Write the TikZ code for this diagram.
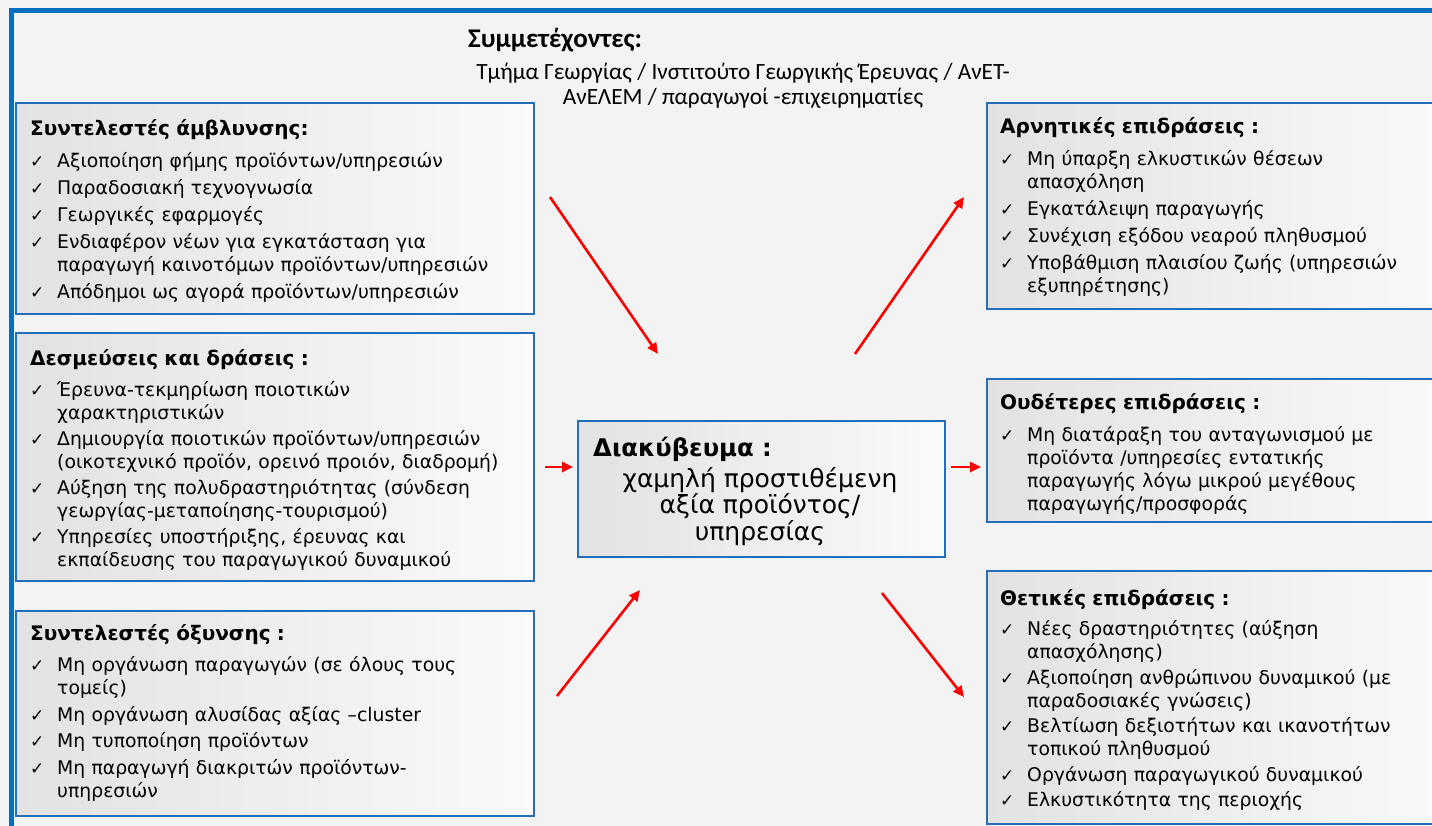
\documentclass[tikz,border=0pt]{standalone}
\usepackage{fontspec}
\setmainfont{DejaVu Sans}
\newfontfamily\calfont{Carlito}
\usetikzlibrary{arrows.meta}
\definecolor{frameblue}{RGB}{0,112,192}
\definecolor{boxblue}{RGB}{36,110,185}
\definecolor{boxL}{RGB}{226,226,226}
\definecolor{boxR}{RGB}{250,250,250}
\definecolor{bgcol}{RGB}{243,243,243}
\newcommand{\itm}[1]{\noindent\hangindent=27pt\hangafter=1\makebox[27pt][l]{\fontsize{17}{17}\selectfont ✓}#1\par}
\tikzset{
  boxstyle/.style={draw=boxblue, line width=1.8pt, left color=boxL, right color=boxR, anchor=north west, inner sep=0pt},
  txt/.style={anchor=north west, inner sep=0pt, text width=#1,
    font=\fontsize{18.8}{23}\selectfont},
  arr/.style={draw=red, line width=2.6pt, -{Triangle[length=11pt,width=10pt]}}
}
\newcommand{\ttlline}[2]{\raggedright\rule{0pt}{20pt}{\fontsize{20}{23}\selectfont\bfseries #1}\par\vspace{5pt}\setlength{\parskip}{#2}}
\begin{document}
\begin{tikzpicture}[x=1pt,y=-1pt]
\useasboundingbox (0,0) rectangle (1432,826);
\clip (0,0) rectangle (1432,826);
\fill[bgcol] (0,0) rectangle (1432,826);
\draw[frameblue, line width=5pt] (11,11) rectangle (1460,860);

% header
\node[anchor=base west, inner sep=0pt, font=\calfont\fontsize{27}{27}\selectfont\bfseries] (hdr) at (468,48) {Συμμετέχοντες:};
\node[anchor=base, inner sep=0pt, align=center, font=\calfont\fontsize{23.3}{25}\selectfont] (part) at (743,105) {Τμήμα Γεωργίας / Ινστιτούτο Γεωργικής Έρευνας / ΑνΕΤ-\\ΑνΕΛΕΜ / παραγωγοί -επιχειρηματίες};

% left boxes
\node[boxstyle, minimum width=518pt, minimum height=211pt] (amb) at (15,102) {};
\node[txt=500pt] (ambT) at (30,115) {\ttlline{Συντελεστές άμβλυνσης:}{4pt}%
\itm{Αξιοποίηση φήμης προϊόντων/υπηρεσιών}
\itm{Παραδοσιακή τεχνογνωσία}
\itm{Γεωργικές εφαρμογές}
\itm{Ενδιαφέρον νέων για εγκατάσταση για\newline παραγωγή καινοτόμων προϊόντων/υπηρεσιών}
\itm{Απόδημοι ως αγορά προϊόντων/υπηρεσιών}};

\node[boxstyle, minimum width=518pt, minimum height=248pt] (des) at (15,332) {};
\node[txt=500pt] (desT) at (30,345) {\ttlline{Δεσμεύσεις και δράσεις :}{3pt}%
\itm{Έρευνα-τεκμηρίωση ποιοτικών\newline χαρακτηριστικών}
\itm{Δημιουργία ποιοτικών προϊόντων/υπηρεσιών\newline (οικοτεχνικό προϊόν, ορεινό προιόν, διαδρομή)}
\itm{Αύξηση της πολυδραστηριότητας (σύνδεση\newline γεωργίας-μεταποίησης-τουρισμού)}
\itm{Υπηρεσίες υποστήριξης, έρευνας και\newline εκπαίδευσης του παραγωγικού δυναμικού}};

\node[boxstyle, minimum width=518pt, minimum height=205pt] (oxy) at (15,610) {};
\node[txt=500pt] (oxyT) at (30,620) {\ttlline{Συντελεστές όξυνσης :}{3.5pt}%
\itm{Μη οργάνωση παραγωγών (σε όλους τους\newline τομείς)}
\itm{Μη οργάνωση αλυσίδας αξίας –cluster}
\itm{Μη τυποποίηση προϊόντων}
\itm{Μη παραγωγή διακριτών προϊόντων-\newline υπηρεσιών}};

% centre
\node[boxstyle, minimum width=367pt, minimum height=136pt] (stake) at (577,420) {};
\node[anchor=base west, inner sep=0pt, font=\fontsize{24.3}{24}\selectfont\bfseries] (stakeH) at (593,456) {Διακύβευμα :};
\node[anchor=base, inner sep=0pt, align=center, font=\fontsize{25}{25}\selectfont] (stakeT) at (760,540) {χαμηλή προστιθέμενη\\αξία προϊόντος/\\υπηρεσίας};

% right boxes
\node[boxstyle, minimum width=470pt, minimum height=206pt] (neg) at (986,102) {};
\node[txt=430pt] (negT) at (1000,113) {\ttlline{Αρνητικές επιδράσεις :}{4pt}%
\itm{Μη ύπαρξη ελκυστικών θέσεων\newline απασχόληση}
\itm{Εγκατάλειψη παραγωγής}
\itm{Συνέχιση εξόδου νεαρού πληθυσμού}
\itm{Υποβάθμιση πλαισίου ζωής (υπηρεσιών\newline εξυπηρέτησης)}};

\node[boxstyle, minimum width=470pt, minimum height=143pt] (neu) at (986,378) {};
\node[txt=430pt] (neuT) at (1000,389) {\ttlline{Ουδέτερες επιδράσεις :}{4pt}%
\itm{Μη διατάραξη του ανταγωνισμού με\newline προϊόντα /υπηρεσίες εντατικής\newline παραγωγής λόγω μικρού μεγέθους\newline παραγωγής/προσφοράς}};

\node[boxstyle, minimum width=470pt, minimum height=253pt] (pos) at (986,570) {};
\node[txt=430pt] (posT) at (1000,585) {\ttlline{Θετικές επιδράσεις :}{2.5pt}%
\itm{Νέες δραστηριότητες (αύξηση\newline απασχόλησης)}
\itm{Αξιοποίηση ανθρώπινου δυναμικού (με\newline παραδοσιακές γνώσεις)}
\itm{Βελτίωση δεξιοτήτων και ικανοτήτων\newline τοπικού πληθυσμού}
\itm{Οργάνωση παραγωγικού δυναμικού}
\itm{Ελκυστικότητα της περιοχής}};

% arrows
\coordinate (a1s) at (550,197); \coordinate (a1e) at (658,354);
\coordinate (a2s) at (545,467); \coordinate (a2e) at (573,467);
\coordinate (a3s) at (557,696); \coordinate (a3e) at (640,590);
\coordinate (a4s) at (855,354); \coordinate (a4e) at (964,197);
\coordinate (a5s) at (951,467); \coordinate (a5e) at (981,467);
\coordinate (a6s) at (882,593); \coordinate (a6e) at (964,697);
\draw[arr] (a1s) -- (a1e);
\draw[arr] (a2s) -- (a2e);
\draw[arr] (a3s) -- (a3e);
\draw[arr] (a4s) -- (a4e);
\draw[arr] (a5s) -- (a5e);
\draw[arr] (a6s) -- (a6e);
\end{tikzpicture}
\end{document}
